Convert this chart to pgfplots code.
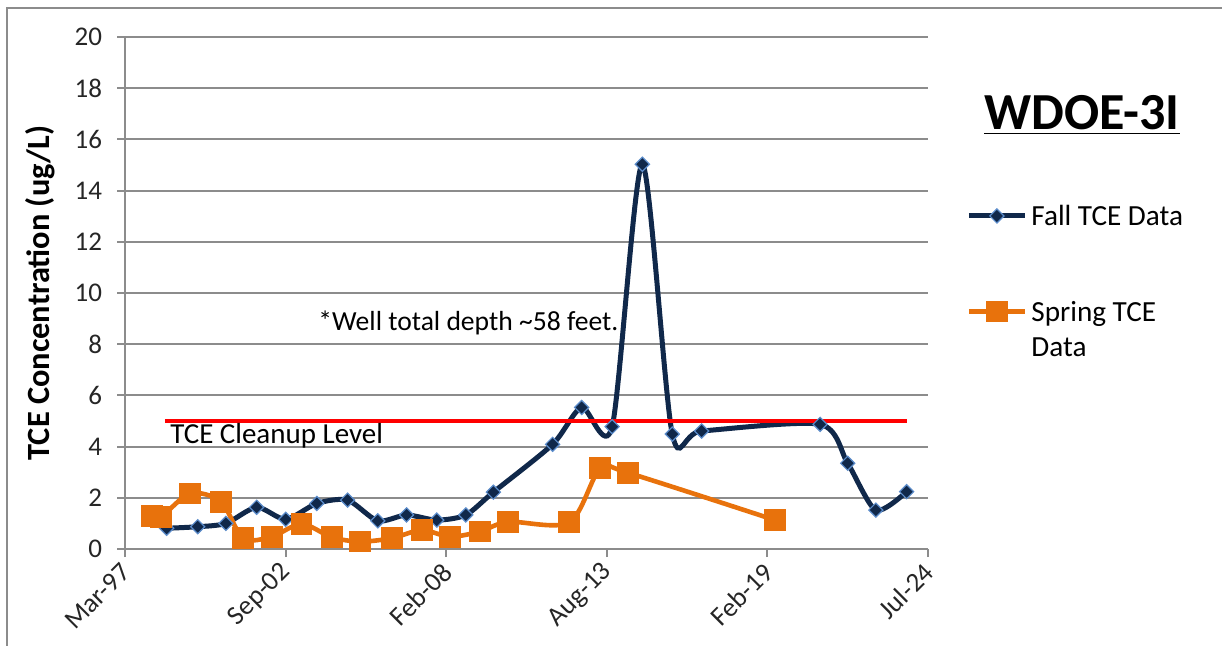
\documentclass[border=0pt]{standalone}
\usepackage{fontspec}
\setmainfont{Carlito}
\usepackage{pgfplots}
\pgfplotsset{compat=1.18}

\definecolor{falln}{HTML}{10284A}
\definecolor{fallo}{HTML}{5B8CCB}
\definecolor{springo}{HTML}{E8720C}
\definecolor{gridg}{HTML}{8C8C8C}

% Fall samples: decimal year, TCE (ug/L)
\pgfplotstableread{
x y
1998.62 0.81
1999.68 0.87
2000.64 1.00
2001.69 1.63
2002.68 1.16
2003.74 1.78
2004.79 1.91
2005.82 1.10
2006.80 1.33
2007.83 1.13
2008.82 1.33
2009.76 2.22
2011.78 4.09
2012.77 5.53
2013.81 4.78
2014.84 15.03
2015.86 4.49
2016.86 4.61
2020.90 4.87
2021.84 3.35
2022.80 1.52
2023.85 2.24
}\falldata

% Spring samples
\pgfplotstableread{
x y
1998.12 1.28
1998.43 1.25
1999.42 2.17
2000.47 1.85
2001.23 0.42
2002.20 0.48
2003.22 0.98
2004.25 0.46
2005.21 0.29
2006.29 0.42
2007.32 0.74
2008.28 0.48
2009.30 0.68
2010.27 1.06
2012.35 1.04
2013.40 3.15
2014.34 2.98
2019.36 1.13
}\springdata

\begin{document}
\begin{tikzpicture}
\useasboundingbox (0,0) rectangle (611pt,322.5pt);
\draw[gridg, line width=1pt] (3.5pt,-2pt) -- (3.5pt,318.5pt) -- (614pt,318.5pt);

\begin{axis}[
    at={(62.5pt,48pt)}, anchor=south west,
    scale only axis,
    width=401.5pt, height=256pt,
    xmin=1997.2, xmax=2024.579,
    ymin=0, ymax=20,
    axis lines*=left,
    axis line style={gridg, line width=1pt},
    tick style={gridg, line width=1pt},
    major tick length=4pt,
    tick align=outside,
    ytick={0,2,...,20},
    xtick={1997.2,2002.676,2008.152,2013.627,2019.103,2024.579},
    xticklabels={Mar-97,Sep-02,Feb-08,Aug-13,Feb-19,Jul-24},
    ymajorgrids,
    grid style={gridg, line width=1pt},
    /pgf/number format/assume math mode=true,
    ticklabel style={font=\fontsize{13.5}{16}\selectfont, text=black!85},
    xticklabel style={xshift=3pt, rotate=45, anchor=east},
    xticklabel shift=3pt,
    yticklabel shift=4pt,
    ylabel={TCE Concentration (ug/L)},
    ylabel style={at={(axis description cs:-0.106,0.5)}, anchor=center,
        font=\fontsize{16.2}{19}\selectfont\bfseries},
    legend style={at={(axis description cs:1.0473,0.6760)}, anchor=north west,
        draw=none, fill=none, inner sep=0pt, row sep=32pt, column sep=1pt,
        font=\fontsize{14.6}{17.5}\selectfont, nodes={inner sep=1pt},
        cells={anchor=base west}},
    legend image code/.code={\draw[mark repeat=2,mark phase=2,#1]
        plot coordinates {(0pt,4.8pt) (14pt,4.8pt) (28pt,4.8pt)};},
    clip=false,
]
\addplot[falln, line width=2.5pt, smooth, tension=0.45, mark=square*,
    mark size=2.5pt, mark options={rotate=45, fill=falln, draw=fallo, line width=0.6pt}]
    table {\falldata};
\addlegendentry{Fall TCE Data}
\addplot[springo, line width=2.3pt, smooth, mark=square*,
    mark size=5.2pt, mark options={fill=springo, draw=springo, line width=0pt}]
    table {\springdata};
\addlegendentry{\begin{tabular}[t]{@{}l@{}}Spring TCE\\Data\end{tabular}}
\addplot[red, line width=1.6pt, forget plot] coordinates {(1998.56,5) (2023.86,5)};

\node[anchor=west, inner sep=0pt, font=\fontsize{14.5}{17}\selectfont]
    at (axis cs:1998.73,4.41) {TCE Cleanup Level};
\node[anchor=west, inner sep=0pt, font=\fontsize{13.8}{16}\selectfont]
    at (axis cs:2003.78,8.83) {*Well total depth \textasciitilde58 feet.};
\end{axis}

\node[font=\fontsize{26}{30}\selectfont\bfseries] at (541pt,265pt) {\underline{WDOE-3I}};
\end{tikzpicture}
\end{document}
